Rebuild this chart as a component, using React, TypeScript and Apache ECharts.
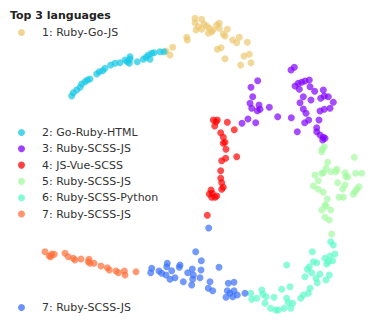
import React, { useEffect, useRef } from "react";
import * as echarts from "echarts";

const titleText = "Top 3 languages";
const seriesNames = [
  "1: Ruby-Go-JS",
  "2: Go-Ruby-HTML",
  "3: Ruby-SCSS-JS",
  "4: JS-Vue-SCSS",
  "5: Ruby-SCSS-JS",
  "6: Ruby-SCSS-Python",
  "7: Ruby-SCSS-JS",
  "7: Ruby-SCSS-JS",
];
const seriesColors = ["#edc76f", "#12c7e6", "#8000ff", "#ff0000", "#a4f99f", "#5bf9c7", "#ff6f39", "#376ff9"];

const cluster1 = [[166,51],[170,55],[172.7,47.3],[186.7,37.3],[187.3,40],[195,18.3],[201.7,19.3],[195,22.7],[198.3,26.7],[196,30],[201.7,29.3],[206.7,26],[209.3,28.3],[208.3,33.3],[211.7,31.7],[216.7,25],[219.3,23.3],[219.3,28.3],[223.3,34],[227.3,29.3],[225,36],[232.7,40],[236.7,42.7],[239.3,37.3],[247.3,42.3],[217.3,49.3],[221,47.7],[225,58.7],[244,56],[249.3,54.3],[251,62.7],[240.7,65],[204,24],[213,30]];
const cluster2 = [[71.7,96],[73.3,92.7],[76.7,90],[80,87.3],[81.7,84],[85,81.7],[87.3,80],[90,79],[96.7,74],[99.3,71.7],[102.7,70.7],[105,68.3],[110.7,65],[115,63.3],[120,62.7],[125,60],[127.3,61.7],[130,59.3],[129.3,63.3],[137.3,61.7],[143.3,59.3],[146,57.3],[148.3,55],[151.7,53.3],[154,52.7],[160,51.7],[164,51.7],[150,59.3],[130,56.7]];
const cluster3 = [[291,70],[294.3,67.3],[257.7,80.7],[251,87.3],[252.7,96.7],[250,103.3],[251.7,108.3],[259,105],[257.3,110.7],[260,109.3],[269.3,107.3],[277.7,116.7],[291.3,117.7],[297.3,131.7],[248,119],[242,123.3],[255.7,122.7],[295,86],[298.3,83.3],[301.7,82.3],[305,81],[309.3,80],[299.3,89.3],[310,86.7],[314.7,91.3],[303.3,96.7],[300,102.7],[311,100],[303.3,109],[306,113.3],[308.7,120],[304.7,122.7],[319,120],[323.3,90],[320.7,98.3],[328.3,96.7],[333.3,102.3],[330,108.3],[324.3,109.3],[320,111],[316.7,127.7],[316.7,131.7],[320,135],[323.3,137.3],[325,138.3],[322.7,140],[324.3,96]];
const cluster4 = [[213.3,120],[216,121.7],[217.3,120],[214.7,126],[227.3,122.3],[234.3,129.7],[220.7,132.7],[223.3,137.3],[225,142.3],[223.3,143.3],[226,149.3],[225.7,158.3],[221.7,160.7],[236.7,156.7],[220.7,170.7],[220.7,178.3],[221.7,182.7],[223.3,187.3],[221.7,189.3],[211,190],[212.3,193.3],[215,197.3],[211.7,197.3],[209.3,194],[216.7,196],[207.3,215.3]];
const cluster5 = [[324.3,146.7],[322.3,149.3],[321.7,151.7],[354.3,157.3],[327.7,162.3],[326,168.3],[323.3,172.7],[321.7,173.3],[331,171.7],[336.7,169.3],[336,171.7],[315,175],[318.3,180.7],[345,172.7],[346,176.7],[347.7,176.7],[355.7,173.3],[361.7,173.3],[337.7,182.7],[345,185],[342.7,189],[359,186.7],[356.7,189.3],[355,191.7],[353.3,194.3],[313.3,186],[318.3,189.3],[323.3,192.3],[339,197.3],[343.3,197.3],[327.3,199],[325,205],[326,206],[321.7,210],[330.7,210],[325,217.3],[329.3,220],[331.7,234]];
const cluster6 = [[330.7,241.7],[333.3,245],[312.3,251.7],[335,254],[330,256],[325,258.3],[328.3,261.7],[332.7,260.7],[313.3,261.7],[316.7,262.7],[326.7,264],[286.7,265],[309.3,266.7],[307.3,269.3],[311.7,272.7],[320,274],[329.3,275],[305,276.7],[316,278.3],[317.3,282.7],[326,280],[310,288.3],[308.3,293.3],[303.3,295],[300.7,298.3],[290,286.7],[281.7,289.3],[261.7,290],[262.7,294],[266,296.7],[250.7,293.3],[251.7,299.3],[256.7,298.3],[265,303.3],[274,297.3],[286.7,298.3],[288.3,302.7],[292.7,303.3],[270.7,308.3],[276,310],[278.3,310],[284,308.3],[290.7,308.3]];
const cluster7 = [[45,251.7],[49.3,256],[51.7,254],[54.3,254.3],[50.7,256.7],[65,253.3],[68.3,256.7],[73.3,258.3],[75,260],[81,259],[88.3,261.7],[89,259.3],[90,263.3],[94,263.3],[101,266],[107.3,267.7],[109.3,270],[116,271],[118.3,272.7],[124.3,271],[125,275],[136,271.7]];
const cluster8 = [[208.7,228],[195.7,251.7],[201.3,260.7],[219,267.3],[151.7,268.3],[150.7,272.7],[159,271],[161.7,273.3],[167.3,263.3],[166.7,266.7],[171.7,270.7],[166,275],[170,279.3],[175,277.7],[180,265],[179.3,267.3],[183.3,281.7],[187.7,272.7],[192.3,269],[193.3,275],[192.7,279.3],[191.7,285],[201,270],[200,277.7],[210,281.7],[208.3,288.3],[212.7,290.7],[228.3,283.3],[234,282.3],[227.3,290.7],[230,293.3],[234,290.7],[226,297.3],[232.7,296.7],[237.3,295],[245,293.3]];

const clusters = [cluster1, cluster2, cluster3, cluster4, cluster5, cluster6, cluster7, cluster8];
const xRange = [0, 382];
const yRange = [0, 329];

export default function App() {
  const ref = useRef<HTMLDivElement>(null);
  useEffect(() => {
    if (!ref.current) return;
    const chart = echarts.init(ref.current, null, { renderer: "svg" });
    const font = "DejaVu Sans";
    const legendBase = {
      orient: "vertical",
      left: 18,
      padding: 0,
      itemWidth: 7,
      itemHeight: 7,
      itemGap: 5.3,
      icon: "circle",
      textStyle: { fontFamily: font, fontSize: 11, color: "#333", padding: [0, 0, 0, 12] },
      selectedMode: false,
    };
    const legendItem = (i: number) => ({
      name: seriesNames[i],
      itemStyle: { color: seriesColors[i], opacity: 0.75 },
    });
    chart.setOption({
      animation: false,
      title: {
        text: titleText,
        left: 10,
        top: 10,
        padding: 0,
        textStyle: { fontFamily: font, fontSize: 11, fontWeight: "bold", color: "#222" },
      },
      legend: [
        { ...legendBase, top: 27, data: [legendItem(0)] },
        { ...legendBase, top: 127, data: [1, 2, 3, 4, 5, 6].map(legendItem) },
        { ...legendBase, top: 302, data: [legendItem(7)] },
      ],
      grid: { left: 0, right: 0, top: 0, bottom: 0 },
      xAxis: { type: "value", min: xRange[0], max: xRange[1], show: false },
      yAxis: { type: "value", min: yRange[0], max: yRange[1], inverse: true, show: false },
      series: clusters.map((d, i) => ({
        type: "scatter",
        name: seriesNames[i],
        data: d,
        symbol: "circle",
        symbolSize: 7,
        itemStyle: { color: seriesColors[i], opacity: 0.7 },
        emphasis: { disabled: true },
      })),
    });
    return () => chart.dispose();
  }, []);
  return <div ref={ref} style={{ position: "absolute", left: 0, top: 0, width: 382, height: 329 }} />;
}
